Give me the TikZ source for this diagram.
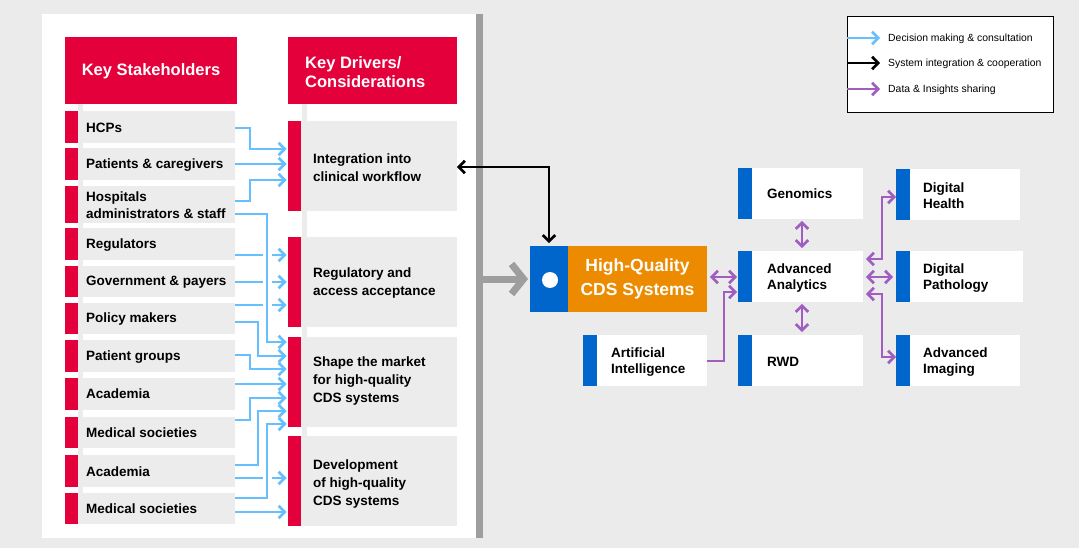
\documentclass[tikz,border=0pt]{standalone}
\usepackage{fontspec}
\setmainfont{Liberation Sans}
\usetikzlibrary{arrows.meta,fit,calc}
\definecolor{crim}{HTML}{E4003B}
\definecolor{cblue}{HTML}{0066CC}
\definecolor{corange}{HTML}{ED8B00}
\definecolor{cpurple}{HTML}{A05EC0}
\definecolor{lblue}{HTML}{66BFFF}
\definecolor{boxgray}{HTML}{ECECEC}
\definecolor{bggray}{HTML}{EBEBEB}
\definecolor{bargray}{HTML}{9E9E9E}
\begin{document}
\begin{tikzpicture}[x=1pt,y=-1pt,
  box/.style={inner sep=0pt, outer sep=0pt},
  sbox/.style={box, fill=boxgray, path picture={\fill[crim] (path picture bounding box.north west) rectangle ([xshift=13pt]path picture bounding box.south west);}},
  wbox/.style={box, fill=white, path picture={\fill[cblue] (path picture bounding box.north west) rectangle ([xshift=13.5pt]path picture bounding box.south west);}},
  hdr/.style={box, fill=crim},
  stxt/.style={inner sep=0pt, anchor=west, align=left, font=\bfseries\fontsize{13.5}{17}\selectfont},
  dtxt/.style={inner sep=0pt, anchor=west, align=left, font=\bfseries\fontsize{13.5}{18}\selectfont},
  rtxt/.style={inner sep=0pt, anchor=west, align=left, font=\bfseries\fontsize{13.5}{16}\selectfont},
  htxt/.style={inner sep=0pt, text=white, align=left, font=\bfseries\fontsize{16.5}{19}\selectfont},
  ltxt/.style={inner sep=0pt, anchor=west, font=\fontsize{10.4}{12}\selectfont},
  tip/.tip={Straight Barb[length=6pt,width=12.5pt]},
  barr/.style={draw=lblue, line width=2.7pt, -tip, shorten >=1.5pt},
  cased/.style={barr, preaction={draw=white, line width=9pt, -, shorten >=0pt}},
  karr/.style={draw=black, line width=2.7pt, tip-tip},
  parr/.style={draw=cpurple, line width=2.7pt, -tip},
  pdarr/.style={draw=cpurple, line width=2.7pt, tip-tip},
  garr/.style={draw=bargray, line width=7pt, -{Straight Barb[length=12pt,width=30pt]}, shorten >=2pt}
]
\useasboundingbox (0,0) rectangle (1079,548);
\fill[bggray] (0,0) rectangle (1079,548);
\fill[white] (42,14) rectangle (476,538);
\node[box, fill=bargray, fit={(476,14) (483,538)}] (bar) {};
\fill[boxgray] (78,104) rectangle (83,524);
\fill[boxgray] (302,104) rectangle (307,526);

% headers
\node[hdr, fit={(65,37) (237,104)}] (hs) {};
\node[htxt] (hst) at (151,71) {Key Stakeholders};
\node[hdr, fit={(288,37) (457,104)}] (hd) {};
\node[htxt, anchor=west] (hdt) at (305,72) {Key Drivers/\\Considerations};

% stakeholders
\node[sbox, fit={(65,111) (235,143)}] (s1) {};
\node[stxt] at (86,128) {HCPs};
\node[sbox, fit={(65,148) (235,180)}] (s2) {};
\node[stxt] at (86,165) {Patients \& caregivers};
\node[sbox, fit={(65,186) (235,223)}] (s3) {};
\node[stxt] at (86,205) {Hospitals\\administrators \& staff};
\node[sbox, fit={(65,228) (235,260)}] (s4) {};
\node[stxt] at (86,245) {Regulators};
\node[sbox, fit={(65,266) (235,297)}] (s5) {};
\node[stxt] at (86,282) {Government \& payers};
\node[sbox, fit={(65,303) (235,334)}] (s6) {};
\node[stxt] at (86,319) {Policy makers};
\node[sbox, fit={(65,340) (235,372)}] (s7) {};
\node[stxt] at (86,357) {Patient groups};
\node[sbox, fit={(65,378) (235,410)}] (s8) {};
\node[stxt] at (86,394) {Academia};
\node[sbox, fit={(65,417) (235,448)}] (s9) {};
\node[stxt] at (86,433) {Medical societies};
\node[sbox, fit={(65,455) (235,487)}] (s10) {};
\node[stxt] at (86,472) {Academia};
\node[sbox, fit={(65,493) (235,524)}] (s11) {};
\node[stxt] at (86,509) {Medical societies};

% drivers
\node[sbox, fit={(288,121) (457,211)}] (d1) {};
\node[dtxt] at (313,168) {Integration into\\clinical workflow};
\node[sbox, fit={(288,237) (457,327)}] (d2) {};
\node[dtxt] at (313,283) {Regulatory and\\access acceptance};
\node[sbox, fit={(288,337) (457,427)}] (d3) {};
\node[dtxt] at (313,381) {Shape the market\\for high-quality\\CDS systems};
\node[sbox, fit={(288,436) (457,526)}] (d4) {};
\node[dtxt] at (313,484) {Development\\of high-quality\\CDS systems};

% blue connectors
\draw[barr] (s1.east |- 0,128) -| (250,149) -- (d1.west |- 0,149);
\draw[barr] (s2.east |- 0,164) -- (d1.west |- 0,164);
\draw[barr] (s3.east |- 0,201) -| (250,180) -- (d1.west |- 0,180);
\draw[barr] (s4.east |- 0,255) -- (d2.west |- 0,255);
\draw[barr] (s5.east |- 0,282) -- (d2.west |- 0,282);
\draw[barr] (s6.east |- 0,305) -- (d2.west |- 0,305);
\draw[barr] (s6.east |- 0,322) -| (258,356) -- (d3.west |- 0,356);
\draw[barr] (s7.east |- 0,355) -| (250,369) -- (d3.west |- 0,369);
\draw[barr] (s8.east |- 0,384) -- (d3.west |- 0,384);
\draw[barr] (s9.east |- 0,420) -| (250,398) -- (d3.west |- 0,398);
\draw[barr] (s10.east |- 0,465) -| (258,411) -- (d3.west |- 0,411);
\draw[barr] (s10.east |- 0,478) -- (d4.west |- 0,478);
\draw[barr] (s11.east |- 0,512) -- (d4.west |- 0,512);
\draw[cased] (s3.east |- 0,214) -| (267,342) -- (d3.west |- 0,342);
\draw[cased] (s11.east |- 0,498) -| (267,424) -- (d3.west |- 0,424);

% central system
\node[box, fill=cblue, fit={(530,246) (568,312)}] (bq) {};
\node[circle, fill=white, inner sep=0pt, minimum size=16pt] (dot) at (550,280) {};
\node[box, fill=corange, fit={(568,246) (707,312)}] (hq) {};
\node[inner sep=0pt, text=white, align=center, font=\bfseries\fontsize{17.5}{24}\selectfont] (hqt) at (hq.center) {High-Quality\\CDS Systems};

\draw[garr] (bar.east |- 0,279) -- (bq.west |- 0,279);
\draw[karr, shorten >=3pt] (d1.east |- 0,167) -| (bq.north);

% data boxes
\node[wbox, fit={(738,168) (863,219)}] (gen) {};
\node[rtxt] at (767,194) {Genomics};
\node[wbox, fit={(738,251) (863,302)}] (aa) {};
\node[rtxt] at (767,278) {Advanced\\Analytics};
\node[wbox, fit={(738,335) (863,386)}] (rwd) {};
\node[rtxt] at (767,362) {RWD};
\node[wbox, fit={(583,335) (707,386)}] (ai) {};
\node[rtxt] at (611,362) {Artificial\\Intelligence};
\node[wbox, fit={(896,169) (1020,220)}] (dh) {};
\node[rtxt] at (923,196) {Digital\\Health};
\node[wbox, fit={(896,251) (1023,302)}] (dp) {};
\node[rtxt] at (923,278) {Digital\\Pathology};
\node[wbox, fit={(896,335) (1020,386)}] (im) {};
\node[rtxt] at (923,362) {Advanced\\Imaging};

% purple connectors
\draw[pdarr, shorten <=3pt, shorten >=1pt] (hq.east |- 0,277) -- (aa.west |- 0,277);
\draw[parr, shorten >=1pt] (ai.east |- 0,361) -| (724,292) -- (aa.west |- 0,292);
\draw[pdarr, shorten <=2pt, shorten >=3pt] (gen.south -| 802,0) -- (aa.north -| 802,0);
\draw[pdarr, shorten <=2pt, shorten >=3pt] (aa.south -| 802,0) -- (rwd.north -| 802,0);
\draw[pdarr, shorten <=3pt] (aa.east |- 0,259) -| (882,197) -- (dh.west |- 0,197);
\draw[pdarr, shorten <=3pt, shorten >=3pt] (aa.east |- 0,277) -- (dp.west |- 0,277);
\draw[pdarr, shorten <=3pt] (aa.east |- 0,294) -| (882,357) -- (im.west |- 0,357);

% legend
\node[box, draw=black, line width=0.6pt, fill=white, fit={(847,16) (1053,112)}] (leg) {};
\coordinate (l1) at (880,38);
\coordinate (l2) at (880,63);
\coordinate (l3) at (880,89);
\draw[barr, shorten >=0pt] (leg.west |- l1) -- (l1);
\draw[draw=black, line width=2.7pt, -tip] (leg.west |- l2) -- (l2);
\draw[parr] (leg.west |- l3) -- (l3);
\node[ltxt] (lt1) at (888,39) {Decision making \& consultation};
\node[ltxt] (lt2) at (888,64) {System integration \& cooperation};
\node[ltxt] (lt3) at (888,90) {Data \& Insights sharing};
\end{tikzpicture}
\end{document}
